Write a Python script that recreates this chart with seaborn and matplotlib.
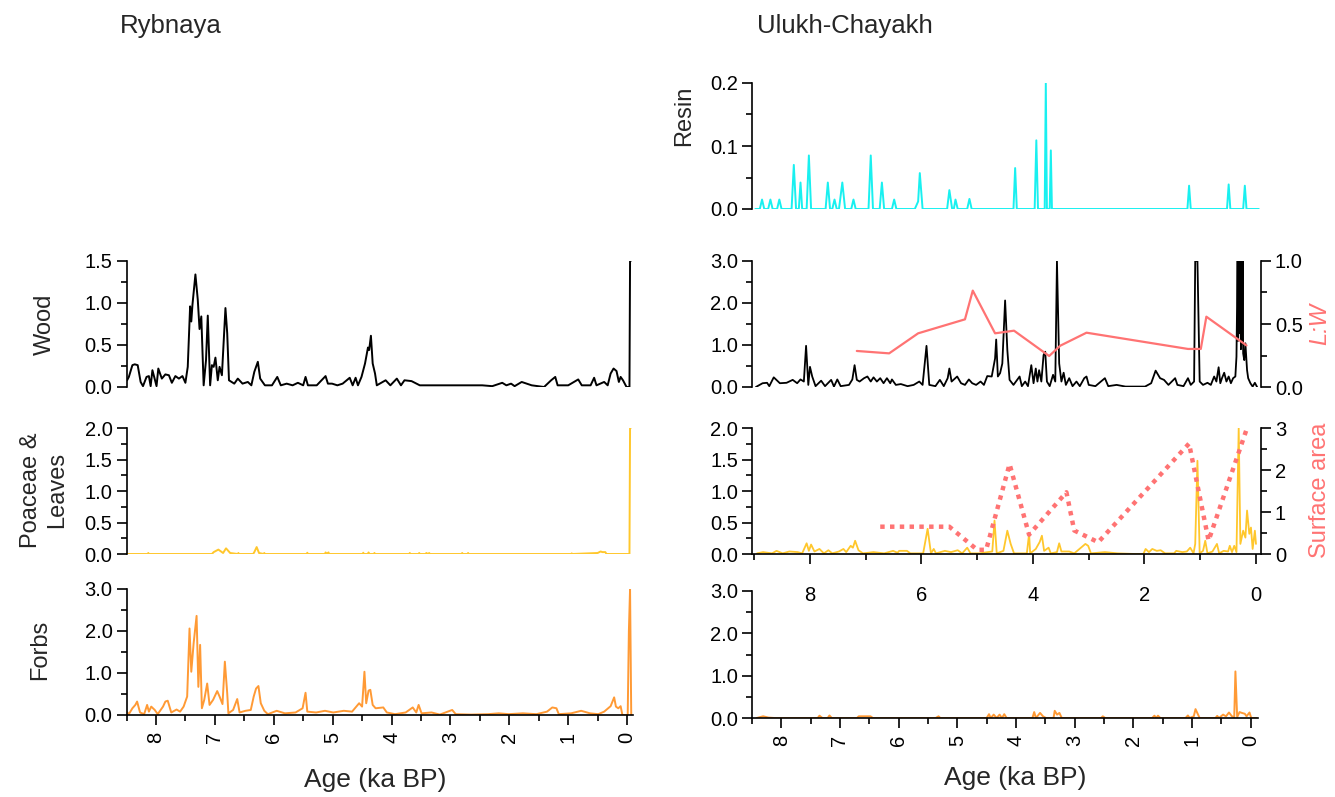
import matplotlib
matplotlib.use("Agg")
import matplotlib.pyplot as plt
import seaborn as sns
from matplotlib.ticker import MultipleLocator, FormatStrFormatter

# ---------------- data ----------------
# Rybnaya
ryb_wood_age = [8.49, 8.46, 8.40, 8.36, 8.31, 8.26, 8.22, 8.16, 8.12, 8.09, 8.06, 8.03, 7.99, 7.96, 7.90,
                7.84, 7.78, 7.73, 7.67, 7.61, 7.55, 7.50, 7.46, 7.42, 7.40, 7.38, 7.33, 7.29, 7.26, 7.23,
                7.19, 7.15, 7.12, 7.08, 7.05, 7.02, 6.99, 6.95, 6.92, 6.88, 6.82, 6.79, 6.76, 6.67, 6.61,
                6.53, 6.44, 6.38, 6.33, 6.27, 6.23, 6.15, 6.03, 5.94, 5.88, 5.78, 5.68, 5.59, 5.50, 5.46,
                5.42, 5.27, 5.12, 5.08, 5.01, 4.92, 4.83, 4.71, 4.66, 4.61, 4.57, 4.51, 4.45, 4.40, 4.38,
                4.35, 4.32, 4.28, 4.25, 4.10, 4.02, 3.91, 3.84, 3.78, 3.66, 3.52, 3.31, 2.99, 2.76, 2.46,
                2.29, 2.12, 2.05, 1.97, 1.91, 1.79, 1.62, 1.41, 1.29, 1.22, 1.18, 1.00, 0.83, 0.77, 0.62,
                0.56, 0.52, 0.39, 0.33, 0.28, 0.23, 0.18, 0.14, 0.11, 0.07, 0.01, -0.04, -0.05, -0.06]
ryb_wood = [0.08, 0.12, 0.26, 0.27, 0.26, 0.06, 0.01, 0.12, 0.13, 0.01, 0.20, 0.12, 0.01, 0.22, 0.10,
            0.15, 0.14, 0.05, 0.13, 0.10, 0.13, 0.05, 0.24, 0.96, 0.78, 0.98, 1.34, 1.04, 0.69, 0.84,
            0.02, 0.32, 0.85, 0.02, 0.26, 0.24, 0.35, 0.08, 0.24, 0.14, 0.94, 0.64, 0.08, 0.04, 0.10,
            0.04, 0.06, 0.02, 0.18, 0.30, 0.10, 0.02, 0.02, 0.12, 0.02, 0.04, 0.02, 0.05, 0.02, 0.12,
            0.02, 0.02, 0.13, 0.04, 0.04, 0.02, 0.04, 0.11, 0.02, 0.11, 0.02, 0.12, 0.28, 0.47, 0.44,
            0.61, 0.28, 0.16, 0.02, 0.08, 0.02, 0.10, 0.02, 0.08, 0.07, 0.02, 0.02, 0.02, 0.02, 0.02,
            0.01, 0.05, 0.02, 0.04, 0.01, 0.06, 0.02, 0.00, 0.08, 0.12, 0.02, 0.02, 0.09, 0.02, 0.02,
            0.11, 0.02, 0.06, 0.02, 0.16, 0.22, 0.19, 0.06, 0.12, 0.08, 0.00, 0.00, 1.50, 1.50]

ryb_poa_age = [8.50, 8.14, 8.13, 8.12, 7.05, 7.02, 6.94, 6.86, 6.81, 6.74, 6.61, 6.60, 6.59, 6.35, 6.33,
               6.29, 6.25, 6.17, 6.16, 6.15, 5.44, 5.43, 5.42, 5.13, 5.12, 5.10, 5.07, 5.06, 4.49, 4.48,
               4.47, 4.40, 4.39, 4.38, 4.30, 4.29, 4.28, 3.70, 3.69, 3.68, 3.54, 3.53, 3.52, 3.42, 3.41,
               3.38, 3.36, 3.35, 2.81, 2.80, 2.79, 2.71, 2.70, 2.69, 0.95, 0.94, 0.93, 0.50, 0.45, 0.42,
               0.37, 0.35, -0.04, -0.05, -0.06]
ryb_poa = [0.0, 0.0, 0.016, 0.0, 0.0, 0.03, 0.07, 0.016, 0.09, 0.016, 0.0, 0.016, 0.0, 0.0, 0.03,
           0.11, 0.016, 0.0, 0.016, 0.0, 0.0, 0.02, 0.0, 0.0, 0.025, 0.0, 0.025, 0.0, 0.0, 0.02,
           0.0, 0.0, 0.025, 0.0, 0.0, 0.016, 0.0, 0.0, 0.016, 0.0, 0.0, 0.016, 0.0, 0.0, 0.016,
           0.0, 0.016, 0.0, 0.0, 0.016, 0.0, 0.0, 0.016, 0.0, 0.0, 0.01, 0.0, 0.016, 0.04, 0.03,
           0.03, 0.0, 0.0, 2.0, 2.0]

ryb_forbs_age = [8.50, 8.46, 8.40, 8.35, 8.32, 8.27, 8.20, 8.15, 8.12, 8.08, 8.02, 7.97, 7.88, 7.84, 7.80,
                 7.74, 7.65, 7.59, 7.53, 7.47, 7.43, 7.40, 7.36, 7.31, 7.28, 7.25, 7.22, 7.18, 7.13, 7.09,
                 7.03, 6.96, 6.92, 6.87, 6.83, 6.79, 6.77, 6.69, 6.62, 6.58, 6.48, 6.39, 6.34, 6.30, 6.26,
                 6.22, 6.16, 6.10, 5.95, 5.81, 5.63, 5.51, 5.46, 5.43, 5.28, 5.13, 4.99, 4.81, 4.67, 4.55,
                 4.50, 4.46, 4.43, 4.39, 4.36, 4.32, 4.27, 4.14, 4.08, 3.94, 3.76, 3.64, 3.58, 3.54, 3.49,
                 3.32, 3.18, 2.97, 2.91, 2.65, 2.36, 2.18, 2.01, 1.77, 1.54, 1.36, 1.27, 1.20, 1.16, 0.95,
                 0.78, 0.63, 0.49, 0.39, 0.28, 0.22, 0.19, 0.15, 0.11, 0.08, -0.01, -0.03, -0.05, -0.07]
ryb_forbs = [0.08, 0.02, 0.16, 0.24, 0.32, 0.06, 0.02, 0.24, 0.08, 0.20, 0.12, 0.02, 0.20, 0.32, 0.34,
             0.06, 0.13, 0.08, 0.20, 0.44, 2.06, 1.03, 1.71, 2.36, 0.67, 1.67, 0.16, 0.36, 0.75, 0.24,
             0.36, 0.57, 0.44, 0.26, 1.27, 0.52, 0.04, 0.12, 0.38, 0.06, 0.10, 0.12, 0.44, 0.63, 0.69,
             0.28, 0.10, 0.02, 0.10, 0.04, 0.06, 0.16, 0.53, 0.08, 0.06, 0.10, 0.06, 0.10, 0.08, 0.28,
             0.20, 1.03, 0.28, 0.58, 0.60, 0.24, 0.16, 0.18, 0.06, 0.02, 0.06, 0.18, 0.06, 0.24, 0.04,
             0.06, 0.01, 0.12, 0.02, 0.01, 0.02, 0.04, 0.02, 0.04, 0.02, 0.08, 0.18, 0.16, 0.02, 0.04,
             0.10, 0.04, 0.02, 0.08, 0.21, 0.42, 0.20, 0.16, 0.21, 0.0, 0.0, 2.0, 3.0, 0.0]

# Ulukh-Chayakh
ulu_resin_age = [8.98, 8.90, 8.86, 8.82, 8.75, 8.71, 8.67, 8.59, 8.55, 8.51, 8.33, 8.29, 8.25, 8.20,
                 8.17, 8.14, 8.06, 8.02, 7.98, 7.72, 7.68, 7.64, 7.60, 7.56, 7.52, 7.48, 7.42, 7.37,
                 7.26, 7.22, 7.18, 6.95, 6.91, 6.87, 6.75, 6.71, 6.67, 6.53, 6.49, 6.45, 6.12, 6.06,
                 6.03, 5.98, 5.54, 5.50, 5.45, 5.42, 5.39, 5.35, 5.18, 5.14, 5.10, 4.35, 4.32, 4.29,
                 3.97, 3.94, 3.91, 3.79, 3.77, 3.75, 3.70, 3.68, 3.66, 1.23, 1.20, 1.17, 0.52, 0.49,
                 0.46, 0.23, 0.20, 0.17, -0.05]
ulu_resin = [0.0, 0.0, 0.015, 0.0, 0.0, 0.015, 0.0, 0.0, 0.015, 0.0, 0.0, 0.070, 0.0, 0.0,
             0.042, 0.0, 0.0, 0.085, 0.0, 0.0, 0.042, 0.0, 0.0, 0.015, 0.0, 0.0, 0.042, 0.0,
             0.0, 0.015, 0.0, 0.0, 0.085, 0.0, 0.0, 0.042, 0.0, 0.0, 0.015, 0.0, 0.0, 0.012,
             0.057, 0.0, 0.0, 0.030, 0.0, 0.0, 0.015, 0.0, 0.0, 0.016, 0.0, 0.0, 0.065, 0.0,
             0.0, 0.109, 0.0, 0.0, 0.200, 0.0, 0.0, 0.093, 0.0, 0.0, 0.037, 0.0, 0.0, 0.039,
             0.0, 0.0, 0.037, 0.0, 0.0]

ulu_wood_age = [8.97, 8.85, 8.77, 8.73, 8.65, 8.54, 8.42, 8.31, 8.23, 8.17, 8.11, 8.07, 8.03, 8.00, 7.96,
                7.90, 7.80, 7.73, 7.62, 7.57, 7.51, 7.45, 7.30, 7.24, 7.20, 7.16, 7.11, 7.03, 6.97, 6.91,
                6.86, 6.80, 6.74, 6.68, 6.62, 6.56, 6.53, 6.46, 6.37, 6.25, 6.14, 6.04, 5.98, 5.91, 5.86,
                5.75, 5.67, 5.60, 5.53, 5.50, 5.46, 5.36, 5.29, 5.22, 5.15, 5.09, 5.02, 4.94, 4.88, 4.82,
                4.74, 4.68, 4.66, 4.63, 4.59, 4.55, 4.50, 4.46, 4.42, 4.35, 4.24, 4.20, 4.14, 4.09, 4.03,
                3.99, 3.95, 3.92, 3.89, 3.85, 3.81, 3.78, 3.75, 3.70, 3.64, 3.60, 3.57, 3.53, 3.49, 3.45,
                3.41, 3.35, 3.29, 3.22, 3.16, 3.08, 3.04, 3.00, 2.88, 2.71, 2.65, 2.50, 2.34, 1.99, 1.88,
                1.80, 1.72, 1.65, 1.57, 1.45, 1.41, 1.30, 1.22, 1.17, 1.11, 1.09, 1.05, 1.01, 0.95, 0.87,
                0.81, 0.75, 0.71, 0.67, 0.64, 0.61, 0.57, 0.53, 0.49, 0.45, 0.41, 0.37, 0.35, 0.33, 0.32,
                0.30, 0.29, 0.28, 0.27, 0.26, 0.25, 0.24, 0.23, 0.21, 0.19, 0.16, 0.14, 0.10, 0.06, 0.02,
                -0.02]
ulu_wood = [0.0, 0.09, 0.10, 0.02, 0.23, 0.09, 0.10, 0.17, 0.09, 0.18, 0.13, 0.98, 0.05, 0.48, 0.25,
            0.02, 0.15, 0.02, 0.17, 0.01, 0.18, 0.02, 0.05, 0.18, 0.52, 0.17, 0.13, 0.21, 0.25, 0.13,
            0.23, 0.13, 0.21, 0.09, 0.21, 0.09, 0.18, 0.05, 0.07, 0.02, 0.05, 0.13, 0.05, 0.98, 0.05,
            0.02, 0.17, 0.02, 0.21, 0.44, 0.13, 0.25, 0.09, 0.05, 0.18, 0.09, 0.05, 0.13, 0.05, 0.26,
            0.25, 0.68, 1.13, 0.25, 0.33, 0.56, 2.06, 0.88, 0.17, 0.05, 0.25, 0.02, 0.13, 0.02, 0.52,
            0.09, 0.44, 0.13, 0.40, 0.13, 0.76, 0.84, 0.13, 0.02, 0.29, 0.13, 3.00, 0.56, 0.13, 0.34,
            0.05, 0.21, 0.02, 0.13, 0.02, 0.21, 0.25, 0.05, 0.02, 0.21, 0.02, 0.05, 0.01, 0.01, 0.09,
            0.39, 0.21, 0.17, 0.05, 0.21, 0.05, 0.02, 0.21, 0.05, 0.13, 3.00, 3.00, 0.13, 0.05, 0.10,
            0.05, 0.25, 0.13, 0.47, 0.09, 0.21, 0.34, 0.13, 0.25, 0.09, 0.21, 0.25, 0.72, 3.00, 1.10,
            3.00, 1.28, 3.00, 0.90, 3.00, 1.04, 3.00, 0.80, 0.64, 1.04, 0.40, 0.21, 0.09, 0.01, 0.10,
            0.0]

ulu_lw_age = [7.16, 6.58, 6.06, 5.22, 5.08, 4.68, 4.34, 3.71, 3.51, 3.04, 1.22, 0.99, 0.89, 0.17]
ulu_lw = [0.286, 0.267, 0.426, 0.537, 0.765, 0.426, 0.447, 0.246, 0.328, 0.431, 0.302, 0.302, 0.558, 0.33]

ulu_poa_age = [8.95, 8.84, 8.68, 8.60, 8.49, 8.37, 8.22, 8.14, 8.06, 8.02, 7.98, 7.92, 7.83, 7.75, 7.67,
               7.60, 7.48, 7.40, 7.35, 7.27, 7.23, 7.19, 7.13, 7.05, 6.86, 6.67, 6.51, 6.43, 6.40, 6.26,
               6.20, 5.97, 5.89, 5.83, 5.78, 5.74, 5.58, 5.47, 5.35, 5.27, 5.18, 5.12, 4.96, 4.81, 4.73,
               4.69, 4.65, 4.53, 4.46, 4.40, 4.34, 4.11, 4.07, 4.05, 3.95, 3.88, 3.84, 3.80, 3.72, 3.68,
               3.57, 3.53, 3.49, 3.35, 3.26, 3.06, 3.01, 2.96, 2.71, 2.48, 2.17, 2.02, 1.98, 1.92, 1.86,
               1.78, 1.71, 1.63, 1.47, 1.43, 1.32, 1.24, 1.18, 1.12, 1.09, 1.05, 1.01, 0.95, 0.91, 0.87,
               0.78, 0.70, 0.66, 0.58, 0.50, 0.47, 0.43, 0.39, 0.35, 0.31, 0.28, 0.23, 0.19, 0.16, 0.12,
               0.09, 0.06, 0.02, 0.00]
ulu_poa = [0.01, 0.03, 0.01, 0.05, 0.01, 0.04, 0.03, 0.01, 0.17, 0.05, 0.15, 0.04, 0.08, 0.01, 0.06,
           0.01, 0.04, 0.08, 0.03, 0.13, 0.10, 0.21, 0.06, 0.01, 0.03, 0.01, 0.05, 0.02, 0.05, 0.05,
           0.01, 0.01, 0.40, 0.01, 0.08, 0.01, 0.05, 0.03, 0.06, 0.01, 0.10, 0.01, 0.01, 0.03, 0.04,
           0.53, 0.01, 0.05, 0.37, 0.16, 0.01, 0.01, 0.32, 0.01, 0.08, 0.19, 0.29, 0.05, 0.10, 0.01,
           0.03, 0.17, 0.04, 0.04, 0.01, 0.16, 0.13, 0.01, 0.03, 0.01, 0.0, 0.0, 0.08, 0.03, 0.08,
           0.05, 0.06, 0.01, 0.01, 0.05, 0.03, 0.04, 0.10, 0.01, 0.16, 1.48, 0.01, 0.05, 0.21, 0.01,
           0.04, 0.16, 0.01, 0.05, 0.04, 0.13, 0.03, 0.13, 0.03, 2.0, 0.16, 0.37, 0.26, 0.69, 0.32,
           0.42, 0.08, 0.37, 0.16]

ulu_sa_age = [6.74, 5.50, 5.00, 4.84, 4.42, 4.07, 3.40, 3.26, 2.83, 1.20, 0.85, 0.16]
ulu_sa = [0.65, 0.65, 0.10, 0.10, 2.14, 0.46, 1.47, 0.56, 0.28, 2.63, 0.32, 3.00]

ulu_forbs_age = [8.42, 8.31, 8.22, 8.12, 7.38, 7.35, 7.30, 7.21, 7.18, 7.14, 6.71, 6.68, 6.48, 6.44,
                 5.37, 5.32, 5.29, 4.50, 4.46, 4.43, 4.38, 4.33, 4.28, 4.24, 4.20, 4.16, 3.72, 3.69,
                 3.66, 3.59, 3.54, 3.49, 3.36, 3.34, 3.30, 3.26, 3.22, 2.55, 2.52, 2.48, 1.68, 1.64,
                 1.61, 1.58, 1.54, 1.11, 1.07, 1.04, 0.97, 0.94, 0.91, 0.87, 0.60, 0.57, 0.54, 0.47,
                 0.42, 0.37, 0.32, 0.28, 0.26, 0.23, 0.19, 0.15, 0.10, 0.07, 0.02, -0.01, -0.10]
ulu_forbs = [0.0, 0.04, 0.01, 0.0, 0.0, 0.055, 0.0, 0.0, 0.06, 0.0, 0.0, 0.04, 0.04, 0.0,
             0.0, 0.04, 0.0, 0.0, 0.09, 0.0, 0.08, 0.0, 0.08, 0.0, 0.09, 0.0, 0.0, 0.14,
             0.0, 0.12, 0.04, 0.0, 0.0, 0.17, 0.08, 0.12, 0.0, 0.0, 0.04, 0.0, 0.0, 0.055,
             0.0, 0.055, 0.0, 0.0, 0.06, 0.0, 0.04, 0.21, 0.12, 0.0, 0.0, 0.05, 0.0, 0.08,
             0.04, 0.13, 0.04, 0.02, 1.10, 0.02, 0.14, 0.12, 0.10, 0.04, 0.13, 0.0, 0.0]

# ---------------- style ----------------
sns.set_theme(style="ticks")
plt.rcParams["font.family"] = ["Liberation Sans", "DejaVu Sans"]
plt.rcParams["axes.linewidth"] = 1.2
for k in ("xtick.major.width", "ytick.major.width", "xtick.minor.width", "ytick.minor.width"):
    plt.rcParams[k] = 1.2
plt.rcParams["xtick.color"] = "black"
plt.rcParams["ytick.color"] = "black"
plt.rcParams["axes.edgecolor"] = "black"

TICK_FS = 14.5
LABEL_FS = 17
AGE_FS = 19
TITLE_FS = 18.5

C_RESIN = "#19F0F0"
C_WOOD = "black"
C_POA = "#FFC72C"
C_FORBS = "#FF9A35"
C_PINK = "#FF7373"

W, H = 1335, 797
fig = plt.figure(figsize=(W / 100, H / 100), dpi=100)


def add_ax(x0, x1, ytop, ybot):
    a = fig.add_axes([x0 / W, 1 - ybot / H, (x1 - x0) / W, (ybot - ytop) / H])
    a.set_facecolor("none")
    return a


def style_y(ax, ylim, major, minor, fmt):
    ax.set_ylim(*ylim)
    ax.yaxis.set_major_locator(MultipleLocator(major))
    ax.yaxis.set_minor_locator(MultipleLocator(minor))
    ax.yaxis.set_major_formatter(FormatStrFormatter(fmt))
    ax.tick_params(axis="y", which="major", length=7, labelsize=TICK_FS, pad=3)
    ax.tick_params(axis="y", which="minor", length=4.5)


def style_x(ax, xlim, show, major=1, minor=0.5, rotate=True, pad=4):
    ax.set_xlim(*xlim)
    ax.xaxis.set_major_locator(MultipleLocator(major))
    ax.xaxis.set_minor_locator(MultipleLocator(minor))
    ax.xaxis.set_major_formatter(FormatStrFormatter("%d"))
    if show:
        ax.tick_params(axis="x", which="major", length=7, labelsize=TICK_FS, pad=pad)
        ax.tick_params(axis="x", which="minor", length=4.5)
        for t in ax.get_xticklabels():
            t.set_rotation(90 if rotate else 0)
    else:
        ax.tick_params(axis="x", which="both", bottom=False, labelbottom=False)
        ax.spines["bottom"].set_visible(False)


def line(ax, x, y, color, lw=1.4, **kw):
    sns.lineplot(x=x, y=y, ax=ax, color=color, linewidth=lw, sort=False,
                 estimator=None, legend=False, **kw)
    ax.set_xlabel("")
    ax.set_ylabel("")


LX0, LX1 = 126.5, 633
RX0, RX1 = 752, 1261
XL_LEFT = (8.5, -0.1)
XL_RIGHT = (9.04, -0.09)
XL_RF = (8.5, -0.125)

# ---- Rybnaya ----
ax = add_ax(LX0, LX1, 261, 387)
line(ax, ryb_wood_age, ryb_wood, C_WOOD)
style_y(ax, (0, 1.5), 0.5, 0.25, "%.1f")
style_x(ax, XL_LEFT, False)
sns.despine(ax=ax, bottom=True)

ax = add_ax(LX0, LX1, 428, 554)
line(ax, ryb_poa_age, ryb_poa, C_POA)
style_y(ax, (0, 2.0), 0.5, 0.25, "%.1f")
style_x(ax, XL_LEFT, False)
sns.despine(ax=ax, bottom=True)

ax = add_ax(LX0, LX1, 589, 715)
line(ax, ryb_forbs_age, ryb_forbs, C_FORBS)
style_y(ax, (0, 3.0), 1.0, 0.5, "%.1f")
sns.despine(ax=ax)
style_x(ax, XL_LEFT, True, pad=5)

# ---- Ulukh-Chayakh ----
ax = add_ax(RX0, RX1, 83, 209)
line(ax, ulu_resin_age, ulu_resin, C_RESIN)
style_y(ax, (0, 0.2), 0.1, 0.05, "%.1f")
style_x(ax, XL_RIGHT, False)
sns.despine(ax=ax, bottom=True)

ax = add_ax(RX0, RX1, 261, 387)
line(ax, ulu_wood_age, ulu_wood, C_WOOD, lw=1.3)
style_y(ax, (0, 3.0), 1.0, 0.5, "%.1f")
style_x(ax, XL_RIGHT, False)
sns.despine(ax=ax, bottom=True)
ax2 = ax.twinx()
ax2.set_facecolor("none")
line(ax2, ulu_lw_age, ulu_lw, C_PINK, lw=1.6)
style_y(ax2, (0, 1.0), 0.5, 0.25, "%.1f")
ax2.set_xlim(*XL_RIGHT)
for s in ("top", "bottom", "left"):
    ax2.spines[s].set_visible(False)

ax = add_ax(RX0, RX1, 428, 554)
line(ax, ulu_poa_age, ulu_poa, C_POA, lw=1.3)
style_y(ax, (0, 2.0), 0.5, 0.25, "%.1f")
sns.despine(ax=ax)
style_x(ax, XL_RIGHT, True, major=2, minor=1, rotate=False, pad=16)
ax2 = ax.twinx()
ax2.set_facecolor("none")
line(ax2, ulu_sa_age, ulu_sa, C_PINK, lw=3.2, linestyle=(0, (1, 1.2)))
style_y(ax2, (0, 3.0), 1, 0.5, "%d")
ax2.set_xlim(*XL_RIGHT)
for s in ("top", "bottom", "left"):
    ax2.spines[s].set_visible(False)

ax = add_ax(RX0, 1258, 591, 718)
line(ax, ulu_forbs_age, ulu_forbs, C_FORBS)
style_y(ax, (0, 3.0), 1.0, 0.5, "%.1f")
sns.despine(ax=ax)
style_x(ax, XL_RF, True, pad=5)

# ---- text ----
def ftext(x, y, s, **kw):
    fig.text(x / W, 1 - y / H, s, **kw)

ftext(120, 26, "Rybnaya", ha="left", va="center", fontsize=TITLE_FS)
ftext(757, 26, "Ulukh-Chayakh", ha="left", va="center", fontsize=TITLE_FS)
ftext(375, 780, "Age (ka BP)", ha="center", va="center", fontsize=AGE_FS)
ftext(1015, 778, "Age (ka BP)", ha="center", va="center", fontsize=AGE_FS)
ftext(45, 324, "Wood", ha="center", va="center", rotation=90, fontsize=LABEL_FS)
ftext(44, 490, "Poaceae &\nLeaves", ha="center", va="center", rotation=90,
      fontsize=LABEL_FS, linespacing=1.2)
ftext(40, 650, "Forbs", ha="center", va="center", rotation=90, fontsize=LABEL_FS)
ftext(684, 116, "Resin", ha="center", va="center", rotation=90, fontsize=LABEL_FS)
ftext(1320, 324, "L:W", ha="center", va="center", rotation=90, fontsize=LABEL_FS,
      color=C_PINK, style="italic")
ftext(1320, 490, "Surface area", ha="center", va="center", rotation=90,
      fontsize=LABEL_FS, color=C_PINK)

fig.savefig("out.png", dpi=100)
